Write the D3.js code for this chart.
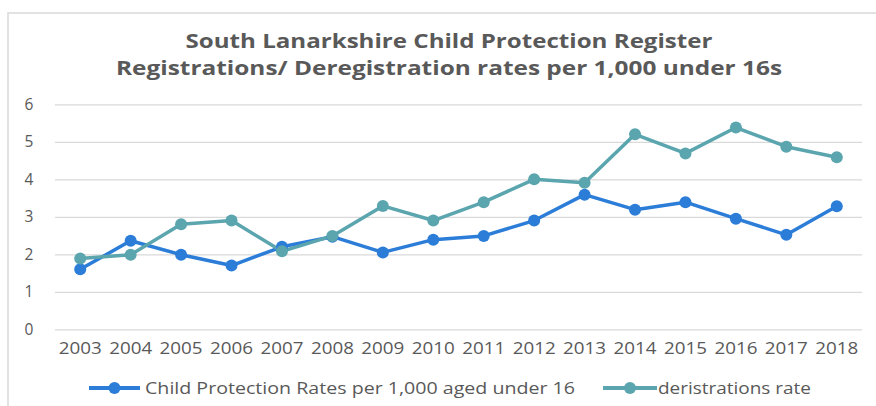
<!DOCTYPE html>
<html><head><meta charset="utf-8">
<script src="https://cdn.jsdelivr.net/npm/d3@7"></script>
<style>body{margin:0;background:#fff}svg{display:block}text{font-family:"Open Sans",sans-serif;fill:#595959}</style>
</head><body><svg id="c" width="876" height="406"></svg>
<script>
const years = ["2003","2004","2005","2006","2007","2008","2009","2010","2011","2012","2013","2014","2015","2016","2017","2018"];
const cpRates = [1.6,2.36,1.99,1.7,2.2,2.47,2.05,2.39,2.49,2.9,3.59,3.19,3.39,2.95,2.52,3.28];
const deregRates = [1.89,1.99,2.8,2.9,2.08,2.49,3.29,2.9,3.39,4.0,3.91,5.2,4.69,5.38,4.87,4.59];
const yTicks = [0,1,2,3,4,5,6];
const seriesNames = ["Child Protection Rates per 1,000 aged under 16","deristrations rate"];
const titleLines = ["South Lanarkshire Child Protection Register","Registrations/ Deregistration rates per 1,000 under 16s"];
const colors = ["#2b7dd8","#5aa5ae"];

const svg = d3.select("#c");
// chart border
svg.append("rect").attr("x",8).attr("y",13).attr("width",900).attr("height",420)
  .attr("fill","none").attr("stroke","#d9d9d9").attr("stroke-width",1.5);

// title
const titleW = [527,666];
titleLines.forEach((t,i)=>{
  svg.append("text").attr("x",449).attr("y",i?74.5:47.5).attr("text-anchor","middle")
    .attr("font-size",20).attr("font-weight","bold")
    .attr("textLength",titleW[i]).attr("lengthAdjust","spacingAndGlyphs").text(t);
});

const x = d3.scaleBand().domain(years).range([55,862]);
const y = d3.scaleLinear().domain([0,6]).range([329.3,104.3]);

// gridlines
const yAxis = d3.axisLeft(y).tickValues(yTicks).tickSize(-(862-55)).tickFormat(d3.format("d"));
const gy = svg.append("g").attr("transform","translate(55,0)").call(yAxis);
gy.select(".domain").remove();
gy.selectAll(".tick line").attr("stroke","#d9d9d9").attr("stroke-width",1.2);
gy.selectAll(".tick text").attr("x",-21).attr("text-anchor","middle").attr("dx",-5)
  .attr("font-size",15.5).attr("font-family","Open Sans").attr("fill","#595959");

const xAxis = d3.axisBottom(x).tickSize(0);
const gx = svg.append("g").attr("transform","translate(0,329.3)").call(xAxis);
gx.select(".domain").remove();
gx.selectAll(".tick text").attr("y",14).attr("font-size",15.5).attr("font-family","Open Sans")
  .attr("fill","#595959").attr("textLength",43).attr("lengthAdjust","spacingAndGlyphs");

const line = d3.line().x((d,i)=>x(years[i])+x.bandwidth()/2).y(d=>y(d));
[cpRates, deregRates].forEach((s,k)=>{
  svg.append("path").datum(s).attr("d",line).attr("fill","none")
    .attr("stroke",colors[k]).attr("stroke-width",3.5).attr("stroke-linejoin","round");
});
[cpRates, deregRates].forEach((s,k)=>{
  svg.append("g").selectAll("circle").data(s).join("circle")
    .attr("cx",(d,i)=>x(years[i])+x.bandwidth()/2).attr("cy",d=>y(d)).attr("r",6)
    .attr("fill",colors[k]);
});

// legend
const leg = [{x1:89,x2:140,tx:145,tw:430},{x1:603,x2:657,tx:658,tw:153}];
leg.forEach((l,k)=>{
  const g = svg.append("g");
  g.append("line").attr("x1",l.x1).attr("x2",l.x2).attr("y1",388).attr("y2",388)
    .attr("stroke",colors[k]).attr("stroke-width",4);
  g.append("circle").attr("cx",(l.x1+l.x2)/2).attr("cy",388).attr("r",6).attr("fill",colors[k]);
  g.append("text").attr("x",l.tx).attr("y",393.5).attr("font-size",15.5)
    .attr("textLength",l.tw).attr("lengthAdjust","spacingAndGlyphs").text(seriesNames[k]);
});
</script></body></html>
